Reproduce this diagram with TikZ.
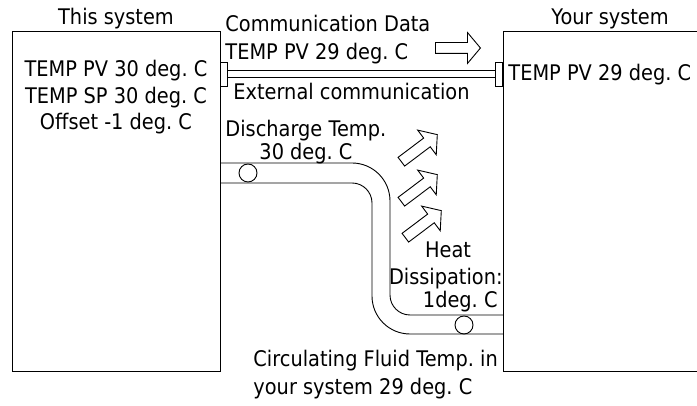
\documentclass[tikz,border=0pt]{standalone}
\usepackage{fontspec}
\setmainfont{DejaVu Sans}[FakeStretch=0.9]
\usetikzlibrary{positioning,shapes.arrows}
\frenchspacing

\begin{document}
\begin{tikzpicture}[x=1pt, y=1pt, line width=0.9pt,
  every node/.style={font=\fontsize{21.5}{26.5}\selectfont},
  sysbox/.style={draw, rectangle, minimum width=208pt, minimum height=340pt, inner sep=0pt},
  port/.style={draw, rectangle, minimum width=7pt, minimum height=24pt, inner sep=0pt},
  hollow/.style={draw, shape=single arrow, minimum height=45pt, inner sep=5pt,
                 single arrow head extend=10pt, single arrow tip angle=100},
  sensor/.style={draw, circle, minimum size=18pt, inner sep=0pt}]
  \useasboundingbox (0,0) rectangle (697,406);
  \clip (0,0) rectangle (697,406);

  % the two systems
  \node (this) [sysbox, anchor=south west] at (12,34) {};
  \node (your) [sysbox, anchor=south west, minimum width=220pt] at (503,34) {};
  \node (thistitle) [anchor=base] at (116,381) {This system};
  \node (yourtitle) [anchor=base] at (610,381) {Your system};
  \node (thisdata) [anchor=base, align=center] at (116,276)
        {TEMP PV 30 deg. C\\TEMP SP 30 deg. C\\Offset -1 deg. C};
  \node (yourdata) [anchor=base west, inner xsep=0pt] at (508,325) {TEMP PV 29 deg. C};

  % external communication
  \node (portL) [port] at (223.5,332) {};
  \node (portR) [port] at (499,332) {};
  \draw ([yshift=3.8pt]portL.east) -- ([yshift=3.8pt]portR.west);
  \draw ([yshift=-3.8pt]portL.east) -- ([yshift=-3.8pt]portR.west);
  \node (commtitle) [anchor=base west, inner xsep=0pt] at (225,374) {Communication Data};
  \node (commdata) [anchor=base west, inner xsep=0pt] at (225,346) {TEMP PV 29 deg. C};
  \node (data) [hollow, anchor=tail] at (435,358) {};
  \node (commlabel) [anchor=base west, inner xsep=0pt] at (233,306) {External communication};

  % circulating fluid pipe
  \draw (this.east |- 0,243) -- (352,243) arc[start angle=90, end angle=0, radius=38]
        -- (390,111) arc[start angle=180, end angle=270, radius=20] -- (your.west |- 0,91);
  \draw (this.east |- 0,223) -- (352,223) arc[start angle=90, end angle=0, radius=20]
        -- (372,110) arc[start angle=180, end angle=270, radius=38] -- (your.west |- 0,72);
  \node (sensorD) [sensor] at (248,233) {};
  \node (sensorR) [sensor] at (464,81) {};
  \node (dischlabel) [anchor=base west, inner xsep=0pt] at (225,269) {Discharge Temp.};
  \node (dischtemp) [anchor=base west, inner xsep=0pt] at (259,246) {30 deg. C};

  % heat dissipation
  \foreach \n/\x/\y in {1/401/244, 2/401/204, 3/405/168}
    \node (heat\n) [hollow, rotate=37, anchor=tail] at (\x,\y) {};
  \node (heatlabel) [anchor=base] at (448,148) {Heat};
  \node (heatname) [anchor=base east, inner xsep=0pt] at (503,121) {Dissipation:};
  \node (heatvalue) [anchor=base east, inner xsep=0pt] at (498,98) {1deg. C};

  \node (fluidlabel) [anchor=base west, inner xsep=0pt] at (253,39) {Circulating Fluid Temp. in};
  \node (fluidtemp) [anchor=base west, inner xsep=0pt] at (253,11) {your system 29 deg. C};
\end{tikzpicture}
\end{document}
